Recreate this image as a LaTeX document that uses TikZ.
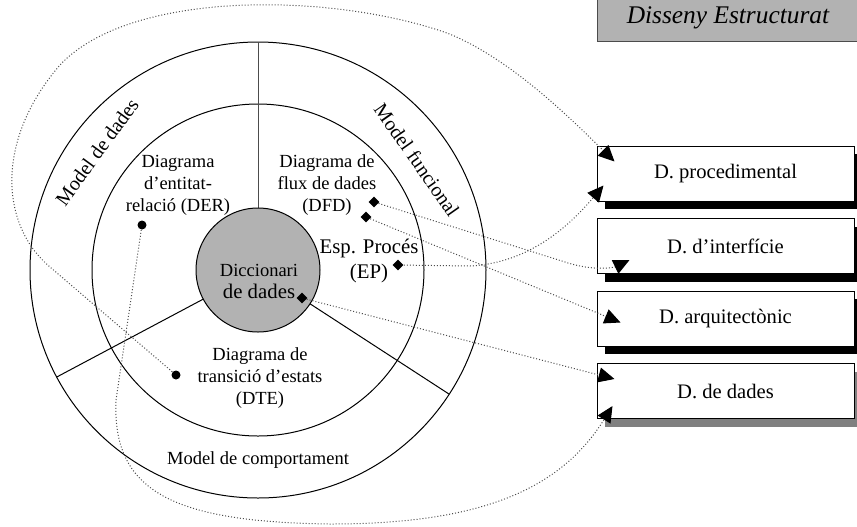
\documentclass[tikz,border=0pt]{standalone}
\usepackage{fontspec}
\setmainfont{Liberation Serif}
\usetikzlibrary{arrows.meta,positioning,shapes.geometric,shadows}

\begin{document}
\begin{tikzpicture}[x=0.5pt,y=-0.5pt,
    font=\fontsize{9.25}{11}\selectfont,align=center,
    ring/.style={line width=0.5pt},
    dot/.style={circle,fill=black,inner sep=0pt,minimum size=4.5pt},
    diam/.style={diamond,fill=black,inner sep=0pt,minimum size=5.5pt},
    tip/.style={-{Triangle[length=8pt,width=7.5pt,black]}},
    flow/.style={tip,densely dotted,black!70,line width=0.5pt},
    dbox/.style={draw,fill=white,line width=0.5pt,minimum width=128.5pt,minimum height=27.5pt,
      font=\fontsize{10.3}{12}\selectfont,
      drop shadow={shadow xshift=4pt,shadow yshift=-4pt,fill=black,opacity=1}},
    titlebox/.style={draw=black!70,fill=gray!60,minimum width=131pt,minimum height=23pt,
      font=\fontsize{12.7}{15}\selectfont\itshape}]
  \useasboundingbox (0,0) rectangle (857,526);

  % rings
  \coordinate (c) at (258,270);
  \draw[ring] (c) circle[radius=228];
  \draw[ring] (c) circle[radius=166];
  \draw[ring,black!70] (c) ++(-90:62) -- ++(-90:166);
  \draw[ring] (c) ++(152:62) -- ++(152:166);
  \draw[ring] (c) ++(33:62) -- ++(33:166);
  \node[circle,draw,fill=gray!60,line width=0.5pt,minimum size=62pt,inner sep=0pt] (dicc) at (c) {};

  % labels
  \node[rotate=54,font=\fontsize{10}{12}\selectfont] (mdades) at (97,152) {Model de dades};
  \node[rotate=-55,font=\fontsize{10}{12}\selectfont] (mfunc) at (417,160) {Model funcional};
  \node (mcomp) at (258,460) {Model de comportament};
  \node (der) at (178,185) {Diagrama\\d’entitat-\\relació (DER)};
  \node (dfd) at (327,185) {Diagrama de\\flux de dades\\(DFD)};
  \node[font=\fontsize{10.4}{12.5}\selectfont] (ep) at (369,261) {Esp. Procés\\(EP)};
  \node (dte) at (260,378) {Diagrama de\\transició d’estats\\(DTE)};
  \node (dicctxt) at (259,281) {Diccionari\\{\fontsize{10.4}{12.5}\selectfont de dades}};

  \node[dot] (derdot) at (142,225) {};
  \node[dot] (dtedot) at (176,375) {};
  \node[diam] (dfd1) at (374,202) {};
  \node[diam] (dfd2) at (366,217) {};
  \node[diam] (epd) at (398,265) {};
  \node[diam] (dicd) at (302,298) {};

  % right column
  \node[titlebox] (title) at (728,18) {Disseny Estructurat};
  \node[dbox] (proc) at (725.5,173.5) {D. procedimental};
  \node[dbox,below=8.25pt of proc] (intf) {D. d’interfície};
  \node[dbox,below=8.25pt of intf] (arq) {D. arquitectònic};
  \node[dbox,below=8.25pt of arq,drop shadow={shadow xshift=4pt,shadow yshift=-4pt,fill=black!50,opacity=1}] (dades) {D. de dades};

  \coordinate (proc-a) at ([shift={(18,16)}]proc.north west);
  \coordinate (proc-b) at ([shift={(7,-16)}]proc.south west);
  \coordinate (intf-a) at ([shift={(33,-14)}]intf.south west);
  \coordinate (arq-a) at ([shift={(24,4)}]arq.west);
  \coordinate (dades-a) at ([shift={(18,16)}]dades.north west);
  \coordinate (dades-b) at ([shift={(16,-13)}]dades.south west);

  % links
  \draw[flow] (dtedot) -- (50,267) .. controls (0,225) and (-5,140) .. (60,65)
    .. controls (130,-10) and (330,-8) .. (447,33)
    .. controls (510,58) and (570,118) .. (proc-a);
  \draw[flow] (derdot) -- (116,400) .. controls (112,490) and (170,522) .. (330,524)
    .. controls (480,524) and (560,490) .. (dades-b);
  \draw[flow] (epd) -- (470,266) .. controls (530,263) and (570,225) .. (proc-b);
  \draw[flow] (dfd1) -- (565,262) .. controls (595,272) and (615,267) .. (intf-a);
  \draw[flow] (dfd2) -- (arq-a);
  \draw[flow] (dicd) -- (dades-a);
\end{tikzpicture}
\end{document}
